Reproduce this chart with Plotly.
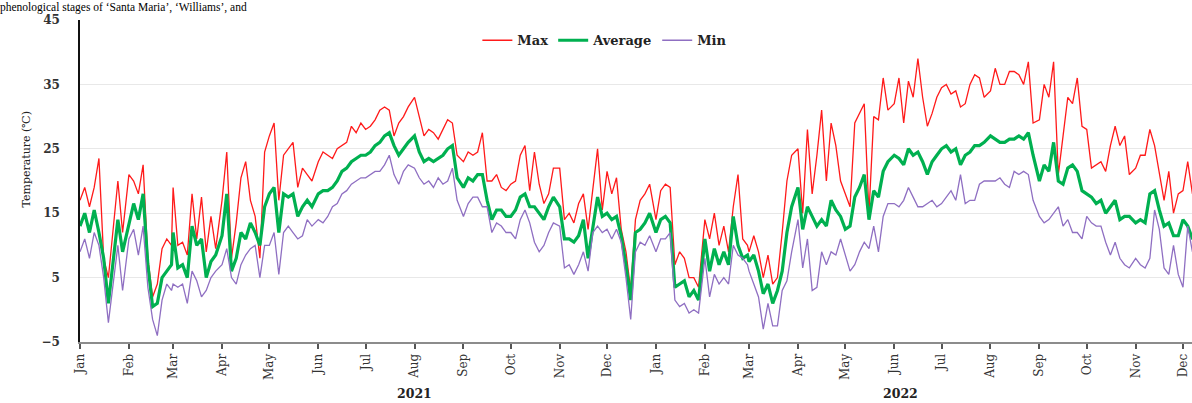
import pandas as pd
import plotly.graph_objects as go

# Daily temperatures sampled every third day of each month (Jan 2021 - Dec 2022)
t_max = [
    17, 19, 16, 19, 23.5, 8, 5, 13, 20, 12,             # Jan 2021
    21, 20, 18, 22.5, 8, 2, 4, 9.5, 11, 10,             # Feb
    19, 10, 10.5, 8.5, 18, 11, 17.5, 9, 14.5, 9.5,      # Mar
    17, 24.5, 8, 13.5, 20.5, 23, 17, 14.5, 8, 24.5,     # Apr
    27, 29, 17, 24, 25, 26, 19, 22, 21, 20,             # May
    23, 24.5, 24, 23.5, 25, 25.5, 26, 28.5, 27.5, 29,   # Jun
    28, 28.5, 29.5, 31, 31.5, 31, 27, 29, 30, 31.5,     # Jul
    33, 30, 27, 28, 27.5, 26.5, 28, 29.5, 29, 24,       # Aug
    23, 24.5, 24, 24.5, 27.5, 20, 20, 21, 19, 18.5,     # Sep
    19.5, 20, 24, 25.5, 18.5, 24.5, 19.5, 16.5, 18, 22, # Oct
    22, 14, 15, 13.5, 16.5, 18, 12.5, 19, 25, 15.5,     # Nov
    21.5, 18, 20.5, 12.5, 9, 3, 14, 17, 18, 19.5,       # Dec
    14, 18.5, 19.5, 19, 7, 9, 8, 5, 5, 3.5,             # Jan 2022
    14, 11, 15, 10, 13, 9, 16, 21, 11, 10,              # Feb
    9, 11.5, 9, 5, 8.5, 4, 5, 12, 20, 24,               # Mar
    25, 15, 28, 18, 24, 31, 20, 29, 25.5, 20,           # Apr
    18, 16, 29, 30.5, 32, 15, 30, 29.5, 36, 31,         # May
    32, 36, 29, 35.5, 33, 39, 33, 28.5, 30.5, 33,       # Jun
    34.5, 35, 33.5, 34, 31.5, 32, 35, 36.5, 36, 33,     # Jul
    34, 37.5, 35, 35, 37, 37, 36.5, 35, 38.5, 29,       # Aug
    29.5, 35, 33, 38.5, 21, 27, 33, 32, 36, 28.5,       # Sep
    28, 22, 22.5, 23, 21.5, 25.5, 28.5, 25.5, 27, 21,   # Oct
    22, 24, 24, 28, 25.5, 21.5, 17, 21.5, 15, 18,       # Nov
    18.5, 23, 18, 19,                                   # Dec
]

t_avg = [
    13, 15, 12, 15.5, 12, 8, 1, 8, 14, 9,
    13.5, 16.5, 14, 18, 7, 0.5, 1, 5, 6, 7,
    12, 6.5, 7, 5, 13, 10, 11, 5, 7.5, 8.5,
    11.5, 18, 6, 8, 12, 11, 13.5, 12, 10, 16,
    18, 19, 12, 18, 17.5, 18, 14.5, 16, 17, 16,
    18, 18.5, 18.5, 19, 20, 21.5, 22, 23, 23.5, 24,
    24, 24.5, 25.5, 26, 27, 27.5, 25.5, 24, 25, 26,
    27, 24.5, 23, 23.5, 23, 23.5, 24, 25, 25.5, 20.5,
    19, 20.5, 20, 21, 21, 17, 14, 15.5, 15.5, 14.5,
    14.5, 15.5, 17.5, 18, 16, 16, 15, 14, 16, 17.5,
    16, 11, 11, 10.5, 11.5, 14, 8, 13, 17.5, 14.5,
    15, 14, 14.5, 11.5, 7, 1.5, 12, 12.5, 13.5, 15,
    12, 14, 14.5, 13.5, 3.5, 4, 4.5, 2, 3, 1.5,
    11, 6, 9.5, 7, 9, 7, 14.5, 10, 8, 8.5,
    7.5, 8.5, 6, 2.5, 4, 1, 3, 6, 12, 16,
    19, 12.5, 16, 14.5, 13, 14, 13, 17, 15.5, 14.5,
    12.5, 13, 17.5, 19, 21, 14, 18.5, 17.5, 21.5, 23,
    24, 23.5, 22.5, 25, 24, 24.5, 23, 21, 23, 24,
    25, 25.5, 24.5, 25, 22.5, 24, 24.5, 25.5, 25.5, 26,
    27, 26.5, 26, 26, 26.5, 26.5, 27, 26.5, 27.5, 24,
    20, 22.5, 21.5, 26, 20, 19.5, 22, 22.5, 21.5, 18.5,
    18, 17.5, 16.5, 17, 15, 16, 17, 14, 14.5, 14.5,
    13.5, 14, 13.5, 18, 18.5, 15.5, 13, 13.5, 11.5, 11.5,
    14, 13, 11, 12,
]

t_min = [
    9, 11, 8, 12, 10, 5, -2, 4, 10, 3,
    11, 12.5, 8.5, 13, 3.5, -1.5, -4, 1.5, 4, 3,
    4, 3.5, 4, 1, 6, 4.5, 2, 3, 5, 6,
    7, 9.5, 5, 4, 7, 8.5, 9.5, 10, 5, 10,
    10, 12, 5.5, 12, 13, 12, 11, 11.5, 14, 13,
    14, 13.5, 14.5, 16, 16.5, 18, 18.5, 19.5, 20, 20.5,
    20.5, 21, 21.5, 21.5, 22.5, 24, 21, 19.5, 21.5, 22.5,
    22, 20.5, 19.5, 20, 19, 20.5, 19.5, 20, 22, 17,
    14.5, 16.5, 17.5, 17.5, 16, 16, 12, 13.5, 13, 12,
    12, 11, 14, 15.5, 13.5, 10.5, 9, 10, 12, 13.5,
    13, 6.5, 7, 5.5, 7, 9, 6, 12, 13, 12,
    12.5, 11, 12.5, 10.5, 5, -1.5, 9, 10.5, 10, 11.5,
    9, 11, 11, 12, 1.5, 0.5, 1, -0.5, 0, -0.5,
    8, 2, 5.5, 4, 5, 4, 10, 8.5, 8, 7,
    6, 4, 2, -3, 1, -2.5, -2.5, 3, 4.5, 9,
    14, 6.5, 11, 3, 3.5, 9, 7, 9, 8.5, 11,
    8.5, 6, 7, 9, 10.5, 9.5, 13, 9, 14.5, 16.5,
    16.5, 16, 17, 19, 17.5, 16, 16, 16.5, 17, 16,
    16.5, 17.5, 18.5, 17, 21, 16.5, 17, 17, 19.5, 20,
    20, 20, 20.5, 19.5, 19, 21.5, 21, 21.5, 21, 17,
    14.5, 13.5, 14, 15, 16, 13, 14, 12, 12, 11,
    14.5, 13.5, 13, 13, 10.5, 8.5, 10.5, 8, 7, 6.5,
    8, 7, 6.5, 8, 15.5, 12.5, 6.5, 5.5, 10, 5.5,
    3.5, 13, 9, 10,
]

series_names = ["Max", "Average", "Min"]
series_colors = ["#ff1a1a", "#00b050", "#8f6fc2"]
series_widths = [1.3, 3.2, 1.3]
y_ticks = [-5, 5, 15, 25, 35, 45]
year_labels = ["2021", "2022"]
year_label_dates = ["2021-08-01", "2022-06-05"]

# sampling dates: days 1, 4, 7, ... 28 of each month
month_starts = pd.date_range("2021-01-01", "2022-12-01", freq="MS")
day_offsets = list(range(0, 30, 3))
dates = [m + pd.Timedelta(days=d) for m in month_starts for d in day_offsets][: len(t_max)]

serif = "DejaVu Serif"

fig = go.Figure()
for name, vals, col, w in zip(series_names, [t_max, t_avg, t_min], series_colors, series_widths):
    fig.add_trace(go.Scatter(
        x=dates, y=vals, name=name, mode="lines",
        line=dict(color=col, width=w),
    ))

fig.update_layout(
    width=1192, height=403,
    margin=dict(l=80, r=0, t=20, b=61),
    paper_bgcolor="white", plot_bgcolor="white",
    legend=dict(
        orientation="h", x=0.472, xanchor="center", y=0.937, yanchor="middle",
        font=dict(family=serif, size=13, color="#222", weight="bold"),
        bgcolor="rgba(0,0,0,0)", itemwidth=30, tracegroupgap=0,
    ),
    xaxis=dict(
        type="date",
        range=["2021-01-01", "2022-12-06 17:00"],
        tickmode="linear", tick0="2021-01-01", dtick="M1", tickformat="%b",
        tickangle=-90, ticks="outside", ticklen=5, tickwidth=1.5, tickcolor="#555",
        showline=True, linecolor="#8c8c8c", linewidth=2,
        showgrid=False, zeroline=False,
        tickfont=dict(family=serif, size=12, color="#333"),
    ),
    yaxis=dict(
        range=[-5, 45], tickmode="array", tickvals=y_ticks,
        showgrid=True, gridcolor="#e8e8e8", gridwidth=1,
        showline=True, linecolor="#111", linewidth=1.5,
        zeroline=False, ticks="", ticklabelstandoff=16,
        tickfont=dict(family=serif, size=12, color="#333", weight="bold"),
    ),
)

for label, when in zip(year_labels, year_label_dates):
    fig.add_annotation(
        x=when, xref="x", y=-0.16, yref="paper", yanchor="middle",
        text=label, showarrow=False,
        font=dict(family=serif, size=12.5, color="#222", weight="bold"),
    )

fig.add_annotation(
    x=-63 / 1112, xref="paper", y=(342 - 160) / 322, yref="paper",
    text="Temperature (\u2103)", textangle=-90, showarrow=False,
    font=dict(family=serif, size=11, color="#222"),
)

# caption line above the chart, kept small enough to sit inside the top margin
fig.add_annotation(
    x=-80 / 1112, xref="paper", xanchor="left", xshift=-1,
    y=(342 - 0.3) / 322, yref="paper", yanchor="top", borderpad=0,
    text="phenological stages of \u2018Santa Maria\u2019, \u2018Williams\u2019, and",
    showarrow=False,
    font=dict(family="Liberation Serif", size=11.5, color="#000"),
)

fig.write_html("out.html")
